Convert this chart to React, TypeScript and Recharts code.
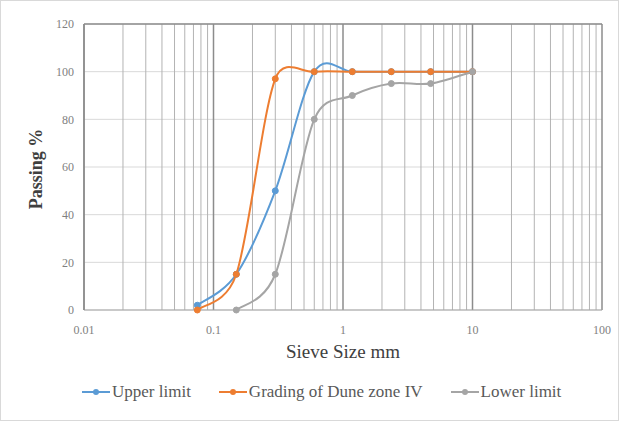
import React from 'react';
import { LineChart, Line, XAxis, YAxis, CartesianGrid, Legend, ReferenceLine, Label } from 'recharts';

const sieveSizes = [0.075, 0.15, 0.3, 0.6, 1.18, 2.36, 4.75, 10];
const upperLimit = [2, 15, 50, 100, 100, 100, 100, 100];
const duneGrading = [0, 15, 97, 100, 100, 100, 100, 100];
const lowerLimit = [null, 0, 15, 80, 90, 95, 95, 100];

const decadeTicks = [0.01, 0.1, 1, 10, 100];
const minorSteps = [1, 2, 3, 4, 5, 6, 7, 8, 9];
const yTicks = [0, 20, 40, 60, 80, 100, 120];

const FONT = '"Liberation Serif", "Times New Roman", serif';

const series = [
  { key: 'upper', name: 'Upper limit', color: '#5B9BD5' },
  { key: 'grading', name: 'Grading of Dune zone IV', color: '#ED7D31' },
  { key: 'lower', name: 'Lower limit', color: '#A5A5A5' },
];

const data = sieveSizes.map((size, i) => ({
  size,
  upper: upperLimit[i],
  grading: duneGrading[i],
  lower: lowerLimit[i],
}));

const xTicks = decadeTicks
  .slice(0, -1)
  .flatMap((d) => minorSteps.map((m) => +(d * m).toPrecision(3)))
  .concat(decadeTicks[decadeTicks.length - 1]);

const isDecade = (v: number) => decadeTicks.some((d) => Math.abs(d - v) < d * 1e-6);

// smoothed line close to Excel's: catmull-rom bezier, handles capped by segment length
const excelSmooth = (context: any) => {
  let pts: number[][] = [];
  const handle = (dx: number, dy: number, seg: number) => {
    let hx = dx / 6;
    let hy = dy / 6;
    const len = Math.hypot(hx, hy);
    const cap = seg * 0.6;
    if (len > cap && len > 0) {
      hx = (hx * cap) / len;
      hy = (hy * cap) / len;
    }
    return [hx, hy];
  };
  return {
    areaStart() {},
    areaEnd() {},
    lineStart() {
      pts = [];
    },
    point(x: number, y: number) {
      pts.push([+x, +y]);
    },
    lineEnd() {
      if (!pts.length) return;
      context.moveTo(pts[0][0], pts[0][1]);
      for (let i = 0; i < pts.length - 1; i++) {
        const p0 = pts[Math.max(i - 1, 0)];
        const p1 = pts[i];
        const p2 = pts[i + 1];
        const p3 = pts[Math.min(i + 2, pts.length - 1)];
        const seg = Math.hypot(p2[0] - p1[0], p2[1] - p1[1]);
        const [ax, ay] = handle(p2[0] - p0[0], p2[1] - p0[1], seg);
        const [bx, by] = handle(p3[0] - p1[0], p3[1] - p1[1], seg);
        context.bezierCurveTo(p1[0] + ax, p1[1] + ay, p2[0] - bx, p2[1] - by, p2[0], p2[1]);
      }
    },
  };
};

const LegendContent = () => (
  <div
    style={{
      display: 'flex',
      alignItems: 'center',
      paddingLeft: 81,
      fontSize: 17,
      color: '#595959',
      fontFamily: FONT,
    }}
  >
    {series.map((s) => (
      <div key={s.key} style={{ display: 'flex', alignItems: 'center', marginRight: 28 }}>
        <svg width={28} height={10} style={{ marginRight: 2 }}>
          <line x1={0} y1={5} x2={28} y2={5} stroke={s.color} strokeWidth={2} />
          <circle cx={14} cy={5} r={3} fill={s.color} />
        </svg>
        <span>{s.name}</span>
      </div>
    ))}
  </div>
);

const App = () => {
  return (
    <div
      style={{
        position: 'absolute',
        left: 0,
        top: 0,
        width: 617,
        height: 419,
        border: '1px solid #d9d9d9',
        background: '#fff',
        fontFamily: FONT,
      }}
    >
      <LineChart width={617} height={419} data={data} margin={{ top: 23, right: 16, bottom: 4, left: 19 }}>
        <CartesianGrid stroke="#d9d9d9" horizontal={true} vertical={false} />
        <XAxis
          dataKey="size"
          type="number"
          scale="log"
          domain={[0.01, 100]}
          ticks={xTicks}
          interval={0}
          allowDataOverflow
          tickFormatter={(v: number) => (isDecade(v) ? String(v) : '')}
          tick={{ fill: '#7f7f7f', fontSize: 12, fontFamily: FONT }}
          tickLine={false}
          tickSize={4}
          tickMargin={11}
          axisLine={{ stroke: '#a6a6a6' }}
          height={72}
        >
          <Label
            content={({ viewBox }: any) => (
              <text
                x={viewBox.x + viewBox.width / 2}
                y={viewBox.y + 48}
                textAnchor="middle"
                fill="#404040"
                fontSize={19}
                fontFamily={FONT}
              >
                Sieve Size mm
              </text>
            )}
          />
        </XAxis>
        <YAxis
          type="number"
          domain={[0, 120]}
          ticks={yTicks}
          interval={0}
          tick={{ fill: '#7f7f7f', fontSize: 12, fontFamily: FONT }}
          tickLine={false}
          tickSize={4}
          tickMargin={6}
          axisLine={{ stroke: '#8c8c8c', strokeWidth: 1.5 }}
          width={64}
        >
          <Label
            content={({ viewBox }: any) => {
              const cx = viewBox.x + 18;
              const cy = viewBox.y + viewBox.height / 2 + 2;
              return (
                <text
                  x={cx}
                  y={cy}
                  textAnchor="middle"
                  dominantBaseline="middle"
                  transform={`rotate(-90, ${cx}, ${cy})`}
                  fill="#404040"
                  fontSize={18}
                  fontWeight="bold"
                  fontFamily={FONT}
                >
                  Passing %
                </text>
              );
            }}
          />
        </YAxis>
        {xTicks.map((t) => (
          <ReferenceLine
            key={`m${t}`}
            x={t}
            stroke={isDecade(t) ? '#8c8c8c' : '#b3b3b3'}
            strokeWidth={isDecade(t) ? 1.5 : 1}
          />
        ))}
        <ReferenceLine y={120} stroke="#8c8c8c" strokeWidth={1.5} />
        <Legend verticalAlign="bottom" height={34} content={<LegendContent />} wrapperStyle={{ left: 0, width: 617 }} />
        {series.map((s) => (
          <Line
            key={s.key}
            dataKey={s.key}
            name={s.name}
            type={excelSmooth as any}
            stroke={s.color}
            strokeWidth={2}
            dot={{ r: 3, fill: s.color, stroke: s.color, strokeWidth: 1 }}
            activeDot={false}
            isAnimationActive={false}
          />
        ))}
      </LineChart>
    </div>
  );
};

export default App;
